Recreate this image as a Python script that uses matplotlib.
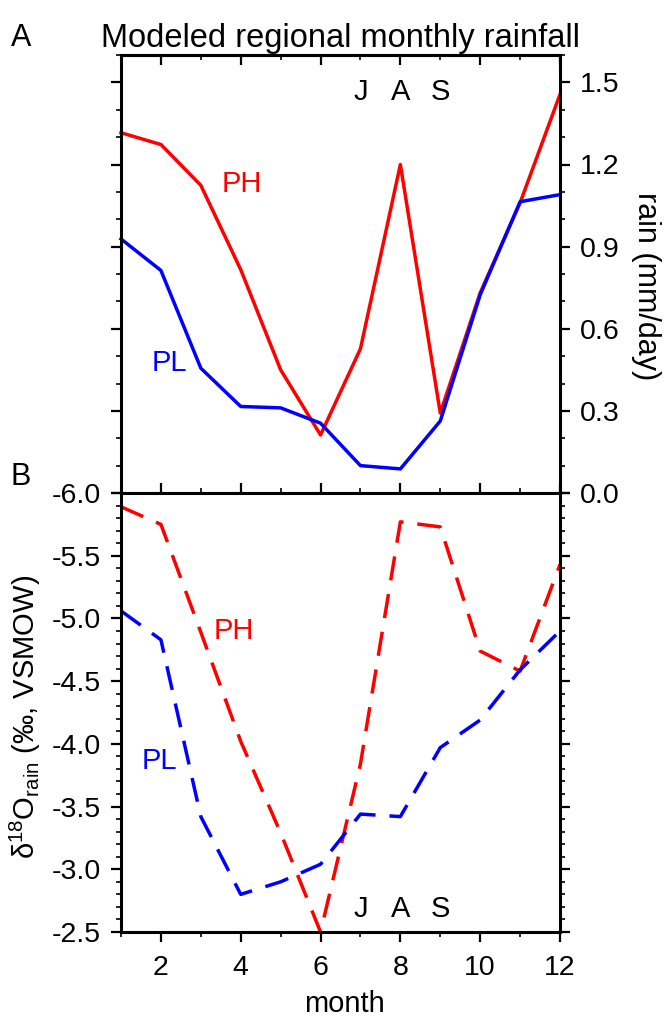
import matplotlib
matplotlib.use("Agg")
import matplotlib.pyplot as plt
from matplotlib.ticker import MultipleLocator, FormatStrFormatter

plt.rcParams['font.family'] = ['Liberation Sans', 'DejaVu Sans']
plt.rcParams['mathtext.fontset'] = 'custom'
plt.rcParams['mathtext.rm'] = 'Liberation Sans'
plt.rcParams['mathtext.it'] = 'Liberation Sans:italic'

# data
months = [1, 2, 3, 4, 5, 6, 7, 8, 9, 10, 11, 12]
rain_ph = [1.316, 1.273, 1.124, 0.816, 0.450, 0.212, 0.527, 1.200, 0.292, 0.731, 1.060, 1.456]
rain_pl = [0.928, 0.813, 0.456, 0.316, 0.311, 0.255, 0.100, 0.088, 0.263, 0.724, 1.064, 1.090]
d18o_ph = [-5.89, -5.75, -4.89, -4.02, -3.29, -2.50, -3.84, -5.77, -5.73, -4.74, -4.58, -5.43]
d18o_pl = [-5.06, -4.83, -3.42, -2.80, -2.90, -3.04, -3.44, -3.42, -3.97, -4.19, -4.59, -4.90]
season = ["J", "A", "S"]
season_months = [7, 8, 9]

W, H = 665, 1017
fig = plt.figure(figsize=(W / 100, H / 100), dpi=100)

left, right = 121 / W, 560 / W
axA = fig.add_axes([left, 1 - 493 / H, right - left, (493 - 55) / H])
axB = fig.add_axes([left, 1 - 932 / H, right - left, (932 - 493) / H])

lw = 2.5
fs_tick = 20.5
fs_txt = 21
tick_kw = dict(width=1.6, labelsize=fs_tick, pad=7)

# ---- panel A: rainfall
axA.plot(months, rain_ph, color='red', lw=lw, clip_on=False)
axA.plot(months, rain_pl, color='blue', lw=lw, clip_on=False)
axA.set_xlim(1, 12)
axA.set_ylim(0, 1.6)
axA.yaxis.set_major_locator(MultipleLocator(0.3))
axA.yaxis.set_minor_locator(MultipleLocator(0.1))
axA.yaxis.set_major_formatter(FormatStrFormatter('%.1f'))
axA.tick_params(axis='y', which='both', direction='out', left=True, right=True,
                labelleft=False, labelright=True, **tick_kw)
axA.tick_params(axis='y', which='major', length=7.5)
axA.tick_params(axis='y', which='minor', length=3.8, width=1.2)
axA.xaxis.set_major_locator(MultipleLocator(2))
axA.xaxis.set_minor_locator(MultipleLocator(1))
axA.tick_params(axis='x', which='both', direction='out', bottom=True, top=False,
                labelbottom=False, **tick_kw)
axA.tick_params(axis='x', which='major', length=7.5)
axA.tick_params(axis='x', which='minor', length=3.8, width=1.2)

# inward ticks along the top edge
secA = axA.secondary_xaxis('top')
secA.xaxis.set_major_locator(MultipleLocator(2))
secA.xaxis.set_minor_locator(MultipleLocator(1))
secA.tick_params(axis='x', which='both', direction='in', labeltop=False, **tick_kw)
secA.tick_params(axis='x', which='major', length=7.5)
secA.tick_params(axis='x', which='minor', length=3.8, width=1.2)
secA.spines['top'].set_linewidth(2.2)

axA.text(4.02, 1.127, 'PH', color='red', fontsize=fs_txt, ha='center', va='center')
axA.text(2.20, 0.476, 'PL', color='blue', fontsize=fs_txt, ha='center', va='center')
for m, s in zip(season_months, season):
    axA.text(m, 1.465, s, fontsize=fs_txt, ha='center', va='center')

# ---- panel B: d18O of rain
dash = (7.0, 4.0)
axB.plot(months, d18o_ph, color='red', lw=lw, dashes=dash, clip_on=False)
axB.plot(months, d18o_pl, color='blue', lw=lw, dashes=dash, clip_on=False)
axB.set_xlim(1, 12)
axB.set_ylim(-2.5, -6.0)
axB.yaxis.set_major_locator(MultipleLocator(0.5))
axB.yaxis.set_minor_locator(MultipleLocator(0.1))
axB.yaxis.set_major_formatter(FormatStrFormatter('%.1f'))
axB.tick_params(axis='y', which='both', direction='out', left=True, right=True,
                labelleft=True, labelright=False, **tick_kw)
axB.tick_params(axis='y', which='major', length=7.5)
axB.tick_params(axis='y', which='minor', length=3.8, width=1.2)
axB.xaxis.set_major_locator(MultipleLocator(2))
axB.xaxis.set_minor_locator(MultipleLocator(1))
axB.tick_params(axis='x', which='both', direction='out', bottom=True, top=True,
                labelbottom=True, labeltop=False, **tick_kw)
axB.tick_params(axis='x', which='major', length=7.5, pad=9)
axB.tick_params(axis='x', which='minor', length=3.8, width=1.2)

axB.set_xlabel('month', fontsize=21, va='baseline')
axB.xaxis.set_label_coords(0.51, -0.183)

axB.text(3.83, -4.90, 'PH', color='red', fontsize=fs_txt, ha='center', va='center')
axB.text(1.95, -3.86, 'PL', color='blue', fontsize=fs_txt, ha='center', va='center')
for m, s in zip(season_months, season):
    axB.text(m, -2.68, s, fontsize=fs_txt, ha='center', va='center')

for ax in (axA, axB):
    for sp in ax.spines.values():
        sp.set_linewidth(2.2)

# axis titles placed on the figure
fig.text(646 / W, 1 - 286 / H, 'rain (mm/day)', fontsize=22, rotation=270,
         ha='center', va='center')
fig.text(25 / W, 1 - 717 / H, r'δ$^{18}$O$_{\rm rain}$ (‰, VSMOW)', fontsize=21,
         rotation=90, ha='center', va='center')

fig.text(340 / W, 1 - 47 / H, 'Modeled regional monthly rainfall', fontsize=23.5,
         ha='center', va='baseline')
fig.text(21 / W, 1 - 38 / H, 'A', fontsize=22, ha='center', va='center')
fig.text(21 / W, 1 - 477 / H, 'B', fontsize=22, ha='center', va='center')

fig.savefig('out.png', dpi=100)
